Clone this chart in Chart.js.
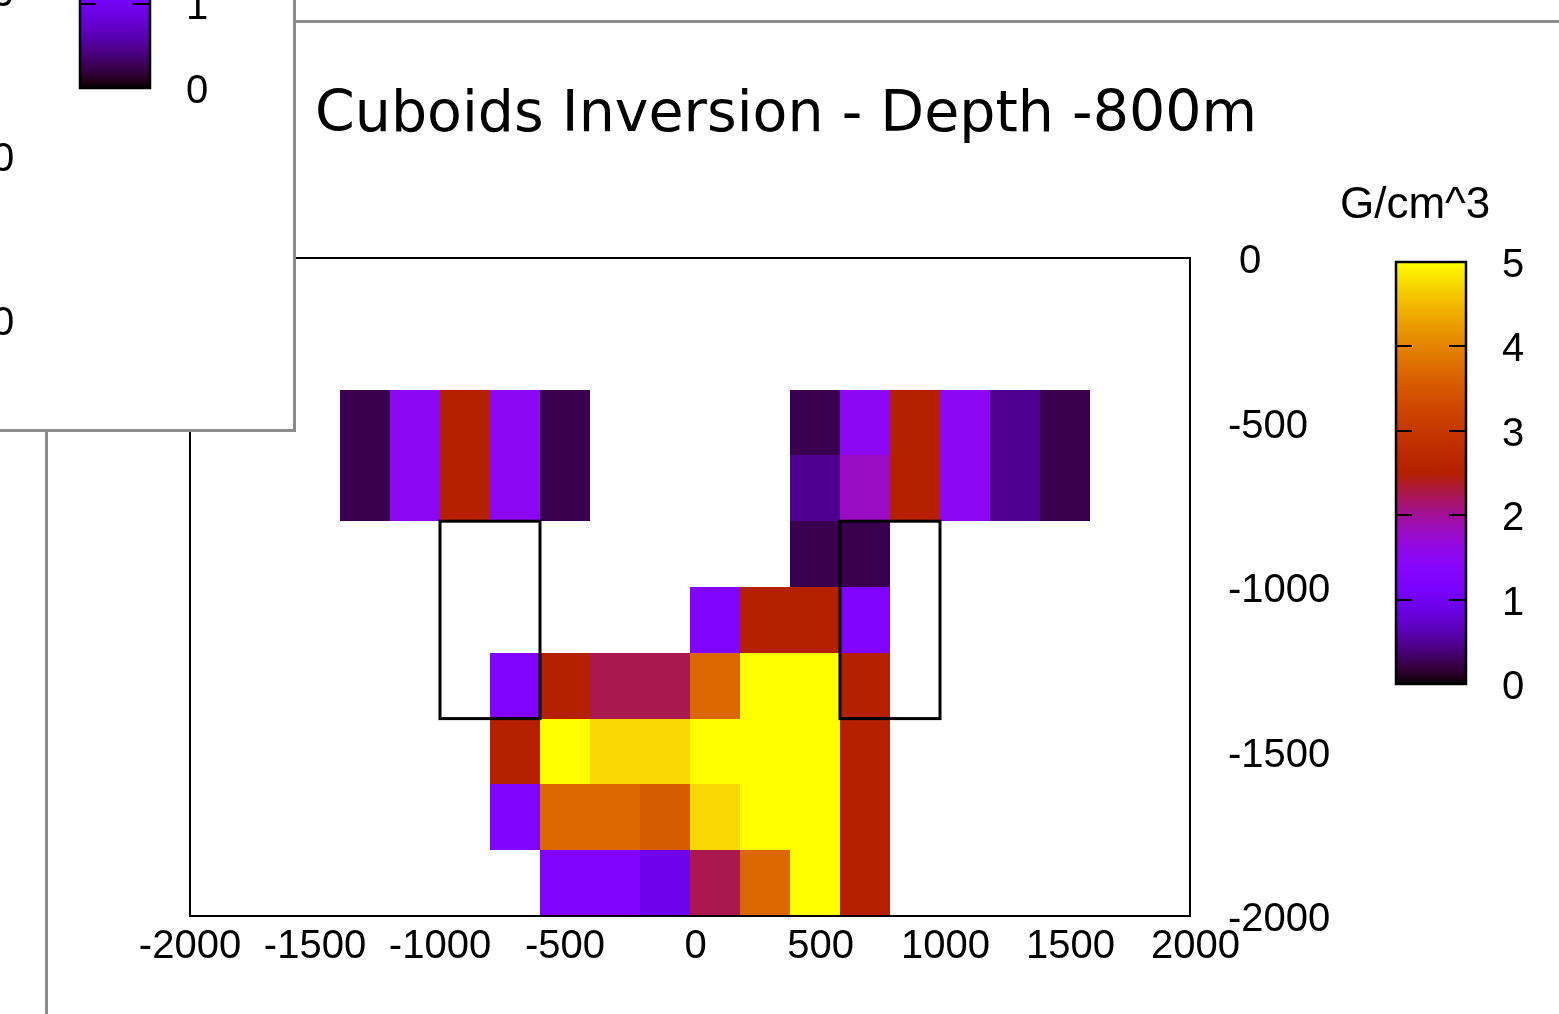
<!DOCTYPE html>
<html>
<head>
<meta charset="utf-8">
<title>Cuboids Inversion - Depth -800m</title>
<script src="https://cdn.jsdelivr.net/npm/chart.js@4.4.1/dist/chart.umd.min.js"></script>
<style>
  html, body { margin: 0; padding: 0; background: #fff; overflow: hidden; }
  #main { position: absolute; left: 0; top: 0; }
  .edge { position: absolute; background: #8c8c8c; }
  #edge-top { left: 296px; top: 20px; width: 1263px; height: 3px; }
  #edge-left { left: 45px; top: 432px; width: 3px; height: 582px; }
  #back {
    position: absolute; left: 0; top: 0; width: 296px; height: 432px;
    overflow: hidden; background: #fff; box-sizing: border-box;
    border-right: 3px solid #8c8c8c; border-bottom: 3px solid #8c8c8c;
  }
  #back canvas { position: absolute; left: -1316px; top: -596px; }
</style>
</head>
<body>
<canvas id="main" width="1559" height="1014"></canvas>
<div class="edge" id="edge-top"></div>
<div class="edge" id="edge-left"></div>
<div id="back"><canvas id="behind" width="1559" height="1014"></canvas></div>
<script>
// cell centres (m) and density per cell, rows from shallow to deep
const xCenters = [-1300, -1100, -900, -700, -500, -300, -100, 100, 300, 500, 700, 900, 1100, 1300, 1500];
const yCenters = [-500, -700, -900, -1100, -1300, -1500, -1700, -1900];
const cellSize = 200;
const density = [
  [0.25, 1.5, 2.5, 1.5, 0.25, null, null, null, null, 0.25, 1.5, 2.5, 1.5, 0.47, 0.25],
  [0.25, 1.5, 2.5, 1.5, 0.25, null, null, null, null, 0.47, 1.8, 2.5, 1.5, 0.47, 0.25],
  [null, null, null, null, null, null, null, null, null, 0.25, 0.25, null, null, null, null],
  [null, null, null, null, null, null, null, 1.25, 2.5, 2.5, 1.25, null, null, null, null],
  [null, null, null, 1.25, 2.5, 2.25, 2.25, 3.7, 5, 5, 2.5, null, null, null, null],
  [null, null, null, 2.5, 5, 4.73, 4.73, 5, 5, 5, 2.5, null, null, null, null],
  [null, null, null, 1.25, 3.7, 3.7, 3.55, 4.73, 5, 5, 2.5, null, null, null, null],
  [null, null, null, null, 1.25, 1.25, 0.95, 2.25, 3.7, 5, 2.5, null, null, null, null]
];

// true body outlines
const boxLeft = [-1000, 600];
const boxRight = [-600, 1000];
const boxTop = [-800, -800];
const boxBottom = [-1400, -1400];

const xTicks = [-2000, -1500, -1000, -500, 0, 500, 1000, 1500, 2000];
const yTicks = [0, -500, -1000, -1500, -2000];
const cbTicks = [0, 1, 2, 3, 4, 5];
const cbMin = 0, cbMax = 5;

const titleText = 'Cuboids Inversion - Depth -800m';
const cbLabel = 'G/cm^3';

const tickFont = '"Liberation Sans", Arial, sans-serif';

// gnuplot default palette (rgbformulae 7,5,15)
function densityColor(v) {
  const t = Math.min(Math.max((v - cbMin) / (cbMax - cbMin), 0), 1);
  const r = Math.sqrt(t), g = t * t * t, b = Math.max(0, Math.sin(2 * Math.PI * t));
  return 'rgb(' + Math.round(r * 255) + ',' + Math.round(g * 255) + ',' + Math.round(b * 255) + ')';
}

function fmt(v) {
  return v < 0 ? String(v) : ' ' + v;
}

const cells = [];
density.forEach((row, r) => {
  row.forEach((v, c) => {
    if (v !== null) cells.push({ x: xCenters[c], y: yCenters[r], v: v });
  });
});

const cb = { left: 1396, right: 1466, top: 262, bottom: 684 };

const heatPlugin = {
  id: 'heat',
  beforeDatasetsDraw(chart) {
    const { ctx, scales: { x, y } } = chart;
    const half = cellSize / 2;
    ctx.save();
    chart.data.datasets[0].data.forEach(p => {
      const l = Math.round(x.getPixelForValue(p.x - half));
      const r = Math.round(x.getPixelForValue(p.x + half));
      const t = Math.round(y.getPixelForValue(p.y + half));
      const b = Math.round(y.getPixelForValue(p.y - half));
      ctx.fillStyle = densityColor(p.v);
      ctx.fillRect(l, t, r - l, b - t);
    });
    ctx.restore();
  },
  afterDatasetsDraw(chart) {
    const { ctx, chartArea: a, scales: { x, y } } = chart;
    ctx.save();
    ctx.strokeStyle = '#000';
    ctx.lineWidth = 3;
    boxLeft.forEach((bl, i) => {
      const l = x.getPixelForValue(bl), r = x.getPixelForValue(boxRight[i]);
      const t = y.getPixelForValue(boxTop[i]), b = y.getPixelForValue(boxBottom[i]);
      ctx.strokeRect(l, t, r - l, b - t);
    });
    ctx.lineWidth = 2;
    ctx.strokeRect(a.left, a.top, a.right - a.left, a.bottom - a.top);
    ctx.restore();
  },
  afterDraw(chart) {
    const { ctx } = chart;
    ctx.save();
    ctx.fillStyle = '#000';

    ctx.font = '57px "DejaVu Sans"';
    ctx.textBaseline = 'alphabetic';
    ctx.textAlign = 'left';
    ctx.fillText(titleText, 315, 131);

    ctx.font = '44px ' + tickFont;
    ctx.fillText(cbLabel, 1340, 218);

    // colour bar
    const cbY = v => cb.bottom - (v - cbMin) / (cbMax - cbMin) * (cb.bottom - cb.top);
    const grad = ctx.createLinearGradient(0, cb.bottom, 0, cb.top);
    for (let i = 0; i <= 60; i++) {
      grad.addColorStop(i / 60, densityColor(cbMin + (cbMax - cbMin) * i / 60));
    }
    ctx.fillStyle = grad;
    ctx.fillRect(cb.left, cb.top, cb.right - cb.left, cb.bottom - cb.top);
    ctx.strokeStyle = '#000';
    ctx.lineWidth = 2.5;
    ctx.strokeRect(cb.left, cb.top, cb.right - cb.left, cb.bottom - cb.top);
    ctx.lineWidth = 2;
    ctx.beginPath();
    cbTicks.forEach(v => {
      if (v === cbMin || v === cbMax) return;
      const py = Math.round(cbY(v));
      ctx.moveTo(cb.left, py); ctx.lineTo(cb.left + 16, py);
      ctx.moveTo(cb.right, py); ctx.lineTo(cb.right - 17, py);
    });
    ctx.stroke();

    ctx.fillStyle = '#000';
    ctx.font = '40px ' + tickFont;
    ctx.textBaseline = 'middle';
    cbTicks.forEach(v => ctx.fillText(fmt(v), 1491, cbY(v) + 4));
    ctx.restore();
  }
};

function makeChart(canvas) {
  return new Chart(canvas, {
    type: 'scatter',
    data: {
      datasets: [{
        data: cells,
        pointRadius: 0,
        pointHoverRadius: 0
      }]
    },
    options: {
      responsive: false,
      animation: false,
      events: [],
      layout: { padding: { left: 190, top: 258, right: 0, bottom: 0 } },
      plugins: { legend: { display: false }, tooltip: { enabled: false }, title: { display: false } },
      scales: {
        x: {
          type: 'linear',
          min: -2000, max: 2000,
          afterBuildTicks: s => { s.ticks = xTicks.map(v => ({ value: v })); },
          afterFit: s => { s.height = 98; },
          grid: { display: false, drawTicks: false },
          border: { display: false },
          ticks: {
            autoSkip: false, maxRotation: 0, minRotation: 0, padding: 7,
            color: '#000', font: { family: tickFont, size: 40 },
            callback: v => fmt(v)
          }
        },
        y: {
          type: 'linear',
          position: 'right',
          min: -2000, max: 0,
          afterBuildTicks: s => { s.ticks = yTicks.map(v => ({ value: v })); },
          afterFit: s => { s.width = 369; },
          grid: { display: false, drawTicks: false },
          border: { display: false },
          ticks: {
            autoSkip: false, padding: 38, crossAlign: 'near', labelOffset: 4,
            color: '#000', font: { family: tickFont, size: 40 },
            callback: v => fmt(v)
          }
        }
      }
    },
    plugins: [heatPlugin]
  });
}

makeChart(document.getElementById('main'));
makeChart(document.getElementById('behind'));
</script>
</body>
</html>
